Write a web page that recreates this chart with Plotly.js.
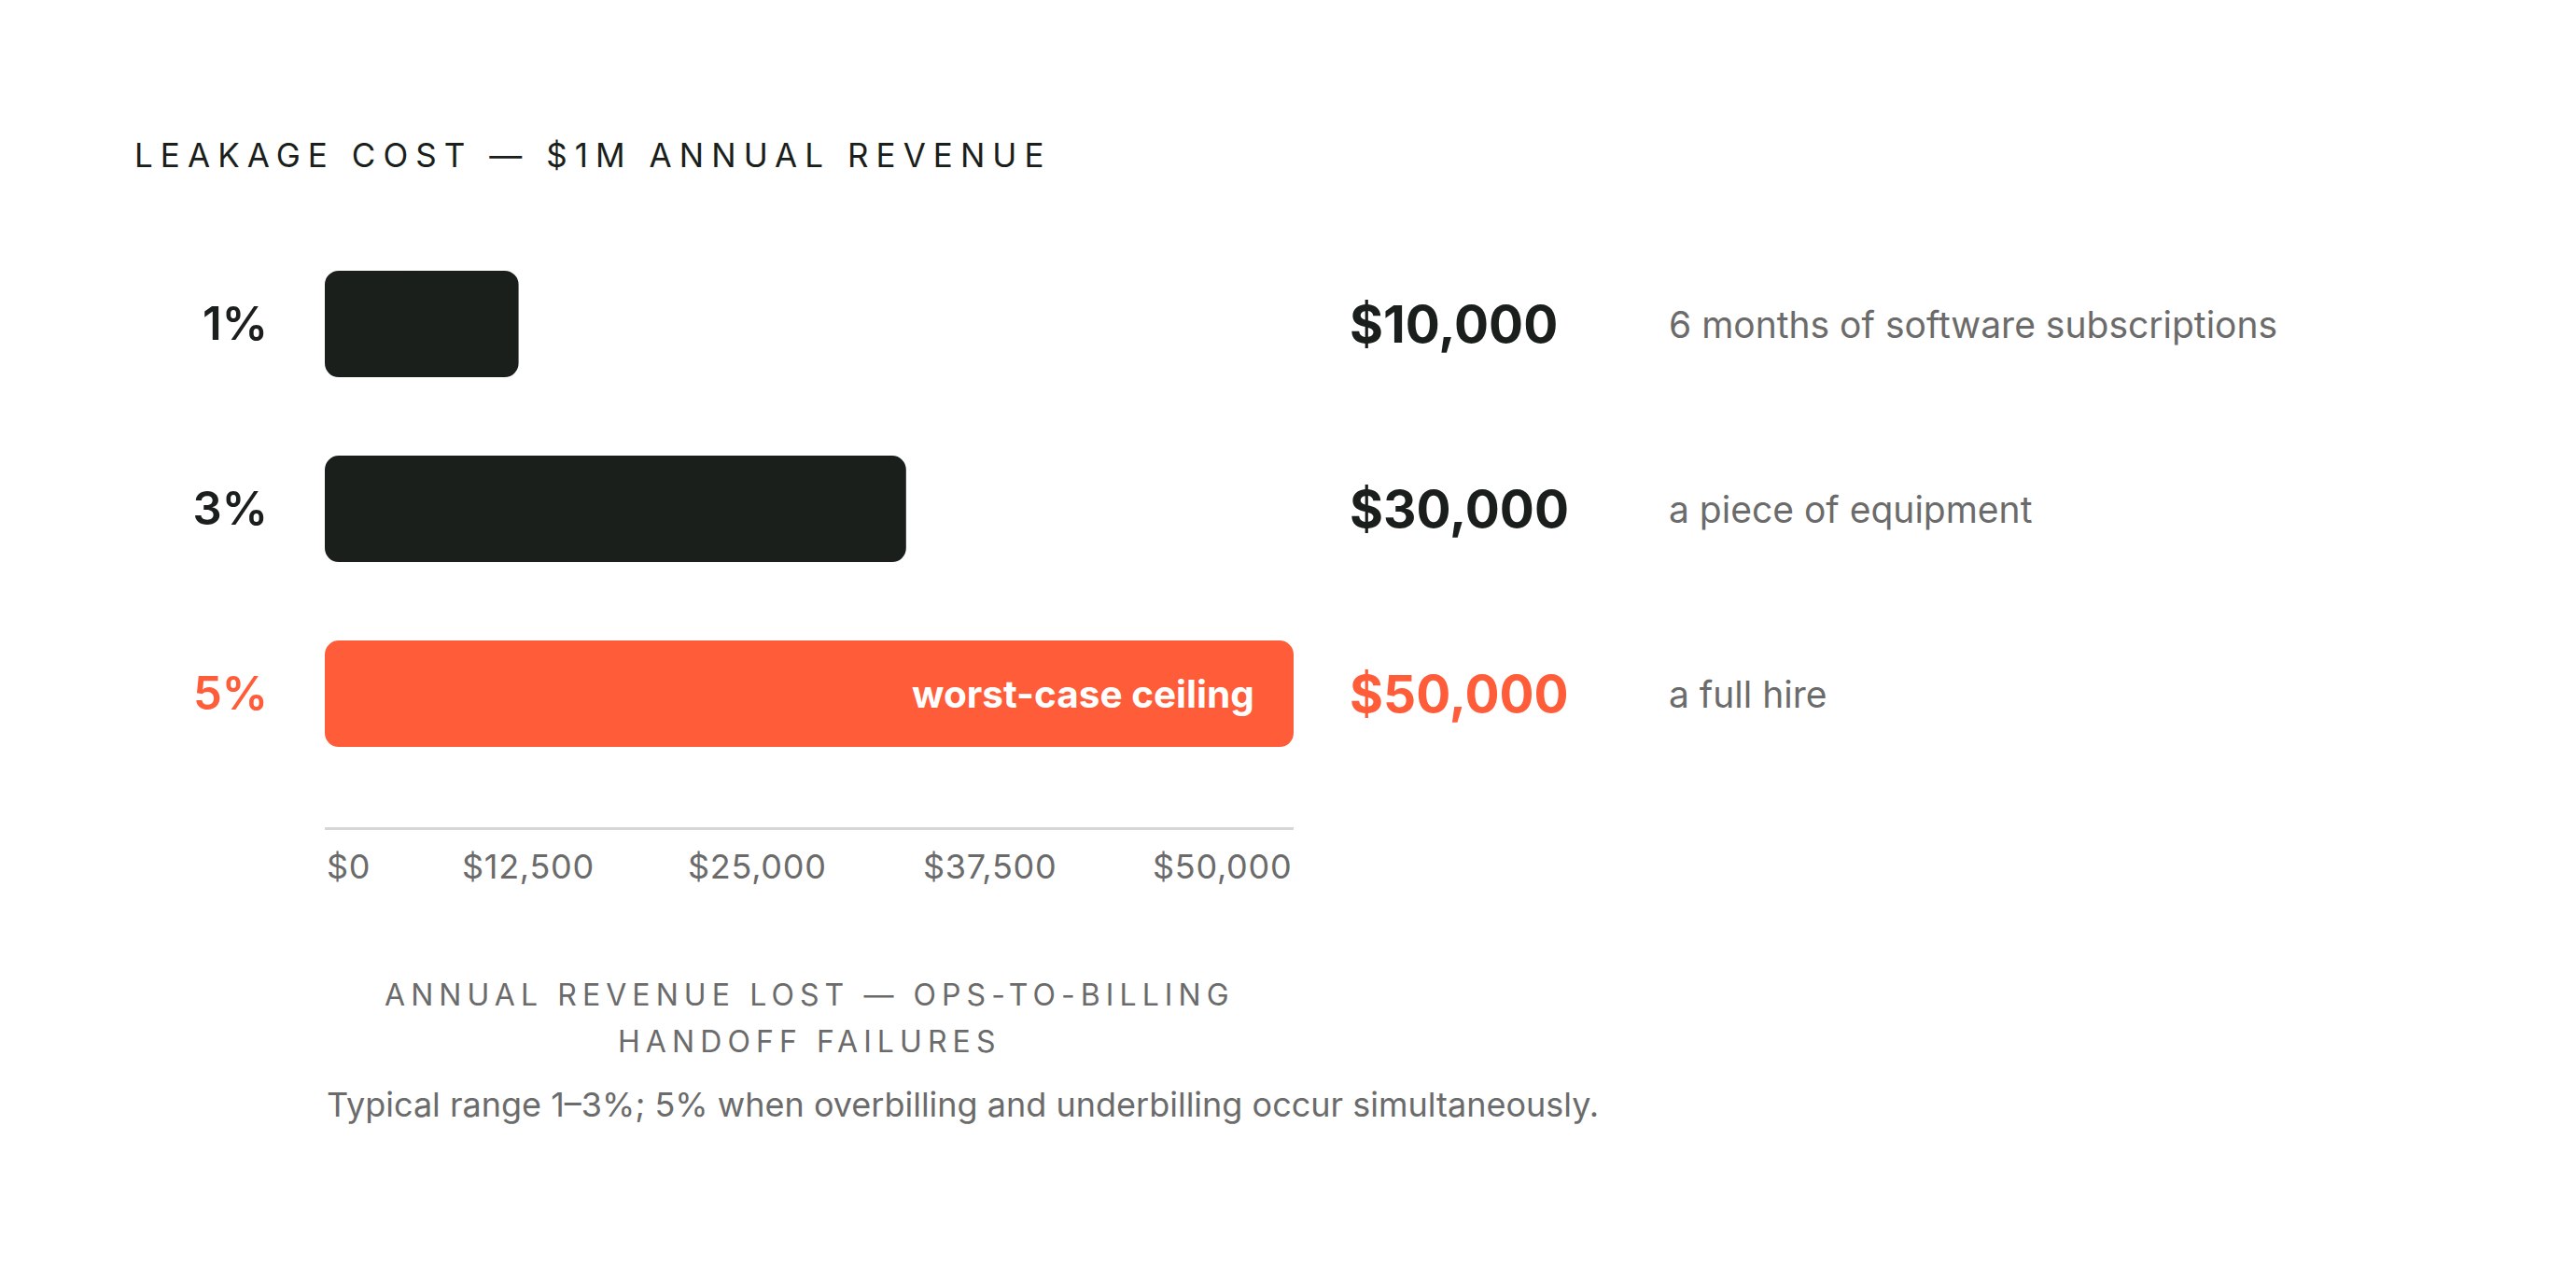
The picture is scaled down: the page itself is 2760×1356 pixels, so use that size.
<!DOCTYPE html>
<html>
<head>
<meta charset="utf-8">
<script src="https://cdn.plot.ly/plotly-3.0.1.min.js"></script>
<style>
  html, body { margin: 0; padding: 0; background: #fff; }
  #chart { width: 2760px; height: 1356px; }
</style>
</head>
<body>
<div id="chart"></div>
<script>
// leakage rates and what the lost revenue compares to
const rates = ['1%', '3%', '5%'];
const lostRevenue = [10000, 30000, 50000];
const comparisons = ['6 months of software subscriptions', 'a piece of equipment', 'a full hire'];
const ceilingNote = 'worst-case ceiling';
const xTickLabels = ['$0', '$12,500', '$25,000', '$37,500', '$50,000'];
const xMax = 50000;

const chartTitle = 'LEAKAGE COST — $1M ANNUAL REVENUE';
const axisTitleLines = ['ANNUAL REVENUE LOST — OPS-TO-BILLING', 'HANDOFF FAILURES'];
const caption = 'Typical range 1–3%; 5% when overbilling and underbilling occur simultaneously.';

const DARK = '#1b1f1c';
const ORANGE = '#ff5c39';
const GREY = '#6b6b6b';
const FONT = 'Inter, "Noto Sans", sans-serif';

const ceilingIdx = lostRevenue.indexOf(Math.max(...lostRevenue));
const colorFor = i => (i === ceilingIdx ? ORANGE : DARK);
const spaced = (t, em) => `<span style="letter-spacing:${em}em">${t}</span>`;
const money = v => '$' + v.toLocaleString('en-US');

// barcornerradius only rounds the tip of a bar, so each bar is drawn as two
// overlapping pieces: one growing left to 0, one growing right to the value
const barStyle = {
  type: 'bar',
  orientation: 'h',
  y: rates,
  width: 0.576,
  marker: { color: rates.map((_, i) => colorFor(i)), line: { width: 0 } },
  hoverinfo: 'skip',
};
const leftPiece = { ...barStyle, base: lostRevenue.map(v => v * 0.6), x: lostRevenue.map(v => -v * 0.6) };
const rightPiece = { ...barStyle, base: lostRevenue.map(v => v * 0.4), x: lostRevenue.map(v => v * 0.6) };

// label slots laid out like a space-between row under the axis
const TICK_SLOTS = [0, 0.21, 0.447, 0.686, 1];

const annotations = [];

rates.forEach((r, i) => {
  annotations.push({
    xref: 'paper', x: 1.056, xanchor: 'left',
    yref: 'y', y: r, yanchor: 'middle',
    text: money(lostRevenue[i]), showarrow: false,
    font: { family: FONT, size: 55, weight: 700, color: colorFor(i) },
  });
  annotations.push({
    xref: 'paper', x: 1.385, xanchor: 'left',
    yref: 'y', y: r, yanchor: 'middle',
    text: comparisons[i], showarrow: false,
    font: { family: FONT, size: 39, weight: 400, color: GREY },
  });
});

annotations.push({
  xref: 'x', x: lostRevenue[ceilingIdx], xanchor: 'right', xshift: -40,
  yref: 'y', y: rates[ceilingIdx], yanchor: 'middle',
  text: ceilingNote, showarrow: false,
  font: { family: FONT, size: 40.5, weight: 700, color: '#ffffff' },
});

xTickLabels.forEach((t, i) => {
  const last = i === xTickLabels.length - 1;
  annotations.push({
    xref: 'paper', x: TICK_SLOTS[i],
    xanchor: i === 0 ? 'left' : (last ? 'right' : 'center'),
    yref: 'paper', y: 0, yanchor: 'middle', yshift: -42,
    text: spaced(t, 0.02), showarrow: false,
    font: { family: FONT, size: 36, weight: 400, color: GREY },
  });
});

axisTitleLines.forEach((t, i) => {
  annotations.push({
    xref: 'paper', x: 0.5, xanchor: 'center',
    yref: 'paper', y: 0, yanchor: 'middle', yshift: -179 - 50 * i,
    text: spaced(t, 0.19), showarrow: false,
    font: { family: FONT, size: 32, weight: 400, color: GREY },
  });
});

annotations.push({
  xref: 'paper', x: 0, xanchor: 'left',
  yref: 'paper', y: 0, yanchor: 'middle', yshift: -297,
  text: caption, showarrow: false,
  font: { family: FONT, size: 36, weight: 400, color: GREY },
});

const layout = {
  width: 2760,
  height: 1356,
  paper_bgcolor: '#ffffff',
  plot_bgcolor: '#ffffff',
  margin: { l: 348, r: 1374, t: 248, b: 470, pad: 0 },
  showlegend: false,
  barmode: 'overlay',
  barcornerradius: 15,
  title: {
    text: spaced(chartTitle, 0.23),
    xref: 'container', x: 144 / 2760, xanchor: 'left',
    yref: 'container', y: 1 - 167 / 1356, yanchor: 'middle',
    font: { family: FONT, size: 35, weight: 400, color: DARK },
  },
  xaxis: {
    range: [0, xMax],
    showgrid: false, zeroline: false,
    showline: true, linecolor: '#d6d6d6', linewidth: 3,
    showticklabels: false, ticks: '',
    fixedrange: true,
  },
  yaxis: {
    type: 'category',
    categoryorder: 'array', categoryarray: rates,
    range: [2.722, -0.5],
    showgrid: false, zeroline: false, showline: false,
    ticks: '', ticklabelstandoff: 60,
    tickvals: rates,
    ticktext: rates.map((r, i) => i === ceilingIdx ? `<span style="color:${ORANGE}">${r}</span>` : r),
    tickfont: { family: FONT, size: 49, weight: 600, color: DARK },
    fixedrange: true,
  },
  annotations,
};

Plotly.newPlot('chart', [leftPiece, rightPiece], layout, { displayModeBar: false, responsive: false });
</script>
</body>
</html>
